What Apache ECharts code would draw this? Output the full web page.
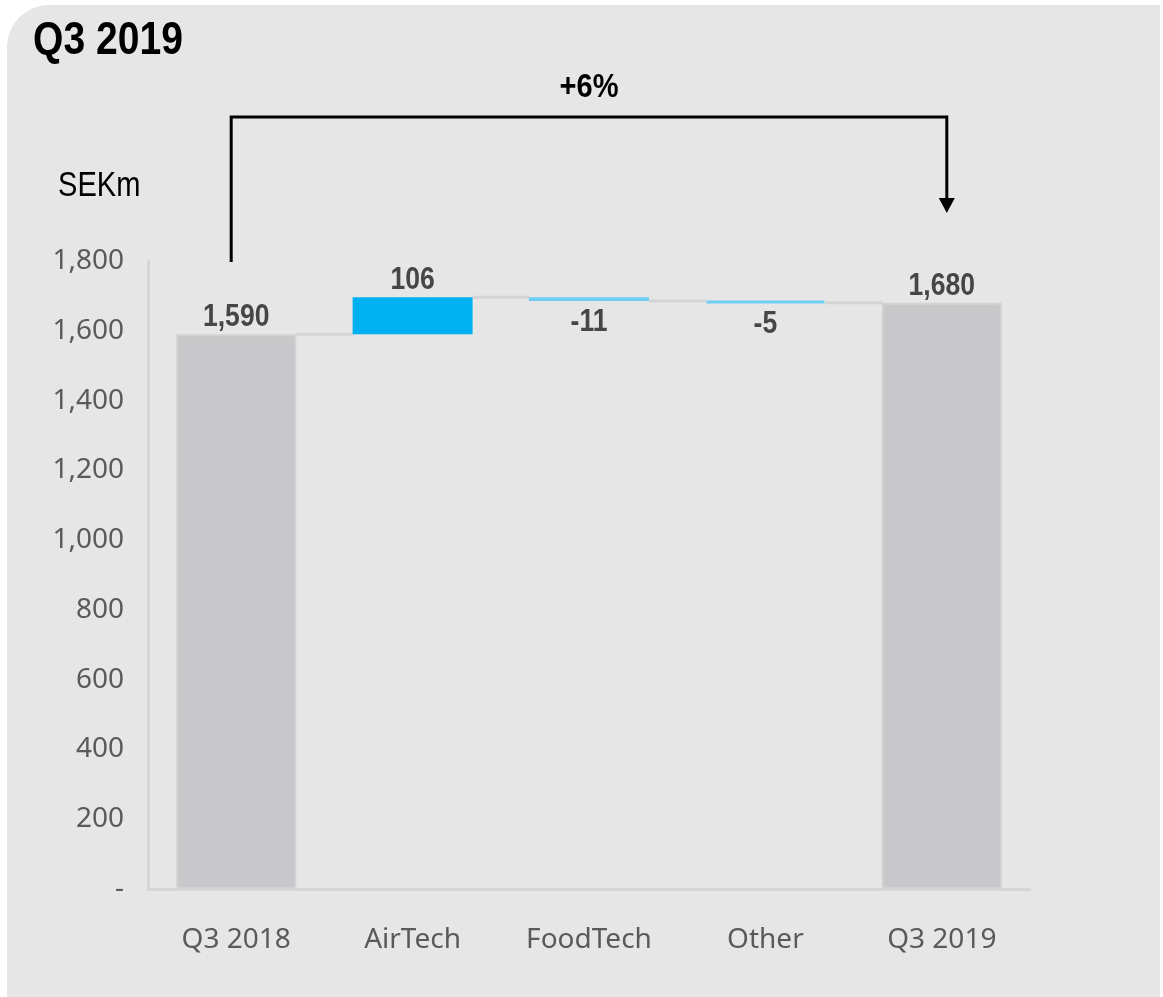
<!DOCTYPE html>
<html>
<head>
<meta charset="utf-8">
<script src="https://cdn.jsdelivr.net/npm/echarts@6/dist/echarts.min.js"></script>
<style>
html,body{margin:0;padding:0;background:#ffffff;}
#card{position:absolute;left:7px;top:5px;width:1153px;height:992px;background:#e6e6e6;border-top-left-radius:42px;}
#chart{position:absolute;left:0;top:0;width:1163px;height:997px;}
</style>
</head>
<body>
<div id="card"></div>
<div id="chart"></div>
<script>
// ---- data ----
const categories = ['Q3 2018', 'AirTech', 'FoodTech', 'Other', 'Q3 2019'];
const startValue = 1590;
const deltas = [106, -11, -5];
const endValue = 1680;
const yTicks = [0, 200, 400, 600, 800, 1000, 1200, 1400, 1600, 1800];
const growthLabel = '+6%';
const titleText = 'Q3 2019';
const unitText = 'SEKm';

// ---- derived waterfall ----
const bases = [0];
const heights = [startValue];
const signed = [startValue];
const levels = [startValue];
let running = startValue;
deltas.forEach(d => {
  const next = running + d;
  bases.push(Math.min(running, next));
  heights.push(Math.abs(d));
  signed.push(d);
  running = next;
  levels.push(running);
});
bases.push(0); heights.push(endValue); signed.push(endValue);

const GRAY = '#c8c8ca', BLUE = '#00b0f0', LIGHT = '#6dcdf3';
const fmt = v => (v < 0 ? '-' : '') + Math.abs(v).toLocaleString('en-US');
const sansFont = '"Liberation Sans", Arial, sans-serif';
const axisFont = '"Noto Sans", "Open Sans", sans-serif';
const NARROW = 0.83;

const valueData = heights.map((h, i) => {
  const total = (i === 0 || i === heights.length - 1);
  const neg = signed[i] < 0;
  return {
    value: h,
    itemStyle: {
      color: total ? GRAY : (neg ? LIGHT : BLUE),
      borderColor: total ? '#d2d2d4' : (neg ? LIGHT : BLUE),
      borderWidth: total ? 2 : (neg ? 3 : 2)
    }
  };
});

const connectorData = levels.map((lv, i) => [i, lv]);
const labelData = heights.map((h, i) => [i, bases[i] + h, bases[i], signed[i]]);
const BAR_RATIO = 0.68;

const chart = echarts.init(document.getElementById('chart'));
chart.setOption({
  backgroundColor: 'transparent',
  animation: false,
  grid: { left: 148, right: 133, top: 261, bottom: 108, containLabel: false },
  xAxis: {
    type: 'category', data: categories,
    axisLine: { show: true, lineStyle: { color: '#d6d6d6', width: 3 } },
    axisTick: { show: false },
    axisLabel: { fontFamily: axisFont, fontSize: 28, color: '#5a5a5a', margin: 37 }
  },
  yAxis: {
    type: 'value', min: yTicks[0], max: yTicks[yTicks.length - 1], interval: yTicks[1] - yTicks[0],
    splitLine: { show: false },
    axisLine: { show: true, lineStyle: { color: '#d6d6d6', width: 3 } },
    axisTick: { show: false },
    axisLabel: {
      fontFamily: axisFont, fontSize: 28, color: '#5a5a5a', margin: 24,
      formatter: v => v === 0 ? '-' : v.toLocaleString('en-US')
    }
  },
  series: [
    {
      type: 'bar', stack: 'wf', data: bases, barWidth: (BAR_RATIO * 100) + '%',
      itemStyle: { color: 'transparent' }, silent: true
    },
    {
      type: 'bar', stack: 'wf', data: valueData, barWidth: (BAR_RATIO * 100) + '%'
    },
    {
      type: 'custom', data: connectorData, z: 1, silent: true, encode: { x: 0, y: 1 },
      renderItem: (params, api) => {
        const i = api.value(0);
        if (i >= categories.length - 1) return null;
        const lv = api.value(1);
        const p0 = api.coord([i, lv]);
        const p1 = api.coord([i + 1, lv]);
        const half = api.size([1, 0])[0] * BAR_RATIO / 2;
        return {
          type: 'line',
          shape: { x1: p0[0] + half, y1: p0[1], x2: p1[0] - half, y2: p1[1] },
          style: { stroke: '#d4d4d4', lineWidth: 3 }
        };
      }
    },
    {
      type: 'custom', data: labelData, z: 5, silent: true, encode: { x: 0, y: 1 },
      renderItem: (params, api) => {
        const i = api.value(0);
        const s = api.value(3);
        const neg = s < 0;
        const p = api.coord([i, neg ? api.value(2) : api.value(1)]);
        return {
          type: 'text',
          x: p[0], y: neg ? p[1] + 5 : p[1] - 1,
          scaleX: NARROW,
          style: {
            text: fmt(s), fontFamily: sansFont, fontWeight: 'bold', fontSize: 32, fill: '#464646',
            align: 'center', verticalAlign: neg ? 'top' : 'bottom'
          }
        };
      }
    }
  ]
});

// ---- title, unit and growth bracket ----
const xa = chart.convertToPixel({ xAxisIndex: 0 }, categories[0]);
const xb = chart.convertToPixel({ xAxisIndex: 0 }, categories[categories.length - 1]);
const yTop = 117, yLeftEnd = 262, yArrowTip = 213;
chart.setOption({
  graphic: [
    { type: 'text', x: 33, y: 41, scaleX: 0.85,
      style: { text: titleText, fontFamily: sansFont, fontWeight: 'bold', fontSize: 46, fill: '#000',
               verticalAlign: 'middle' } },
    { type: 'text', x: 58, y: 186, scaleX: NARROW,
      style: { text: unitText, fontFamily: sansFont, fontSize: 35, fill: '#000', verticalAlign: 'middle' } },
    { type: 'polyline', z: 10,
      shape: { points: [[xa - 5, yLeftEnd], [xa - 5, yTop], [xb + 5, yTop], [xb + 5, yArrowTip - 12]] },
      style: { stroke: '#000', lineWidth: 3, fill: null } },
    { type: 'polygon', z: 10,
      shape: { points: [[xb - 3, yArrowTip - 15], [xb + 13, yArrowTip - 15], [xb + 5, yArrowTip]] },
      style: { fill: '#000' } },
    { type: 'text', z: 10, x: (xa + xb) / 2, y: 88, scaleX: 0.88,
      style: { text: growthLabel, fontFamily: sansFont, fontWeight: 'bold', fontSize: 33, fill: '#000',
               align: 'center', verticalAlign: 'middle' } }
  ]
});
</script>
</body>
</html>
